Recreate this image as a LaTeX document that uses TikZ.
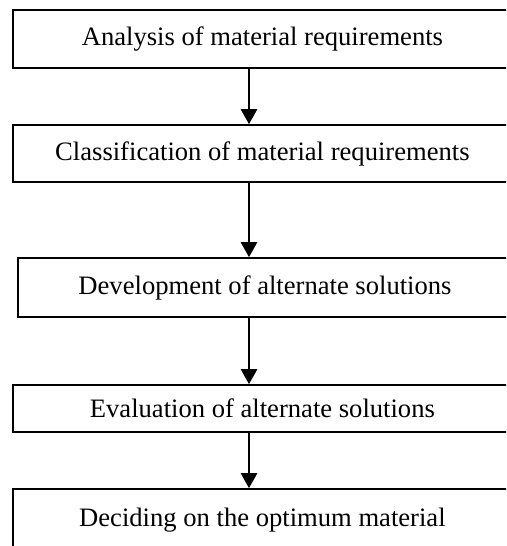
\documentclass[tikz,border=0pt]{standalone}
\usepackage{fontspec}
\setmainfont{Liberation Serif}
\usetikzlibrary{arrows.meta}
\begin{document}
\begin{tikzpicture}[x=1pt,y=-1pt,
  stepbox/.style={draw=black, line width=1.6pt, rectangle, inner sep=0pt,
    minimum width=#1, font=\fontsize{26.6}{30}\selectfont},
  flow/.style={line width=2.6pt,
    -{Triangle[width=16pt,length=15pt]}, shorten >=0pt}]
  \useasboundingbox (0,0) rectangle (506,546);
  \clip (0,0) rectangle (506,546);
  % process steps
  \node[stepbox=499pt, minimum height=58pt] (b1) at (262.4,39)
    {Analysis of material requirements};
  \node[stepbox=499pt, minimum height=57pt] (b2) at (262.4,153.5)
    {Classification of material requirements};
  \node[stepbox=494pt, minimum height=59pt] (b3) at (265,287.5)
    {Development of alternate solutions};
  \node[stepbox=499pt, minimum height=47pt] (b4) at (262.4,408.5)
    {Evaluation of alternate solutions};
  \node[stepbox=499pt, minimum height=62pt] (b5) at (262.4,520)
    {Deciding on the optimum material};
  % common axis of the connectors
  \coordinate (ax) at (249,0);
  \draw[flow] (b1.south -| ax) -- (b2.north -| ax);
  \draw[flow] (b2.south -| ax) -- (b3.north -| ax);
  \draw[flow] (b3.south -| ax) -- (b4.north -| ax);
  \draw[flow] (b4.south -| ax) -- (b5.north -| ax);
\end{tikzpicture}
\end{document}
